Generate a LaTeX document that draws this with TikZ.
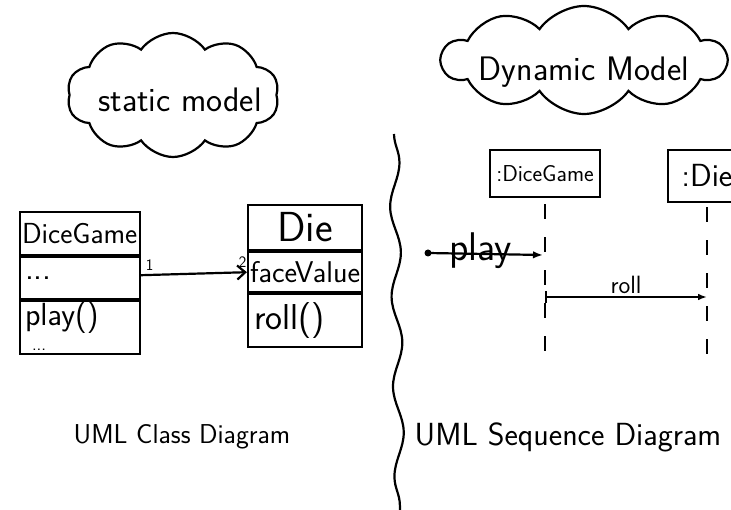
\documentclass[tikz,border=0pt]{standalone}
\usepackage{fontspec}
\usetikzlibrary{positioning,shapes.symbols,arrows.meta,decorations.pathmorphing}

\begin{document}
\begin{tikzpicture}[x=1pt, y=-1pt, line width=2.2pt, font=\sffamily,
    part/.style={draw, minimum width=#1, inner sep=4pt, text width=#1-10, align=left},
    bubble/.style={cloud, draw, cloud puffs=10, cloud puff arc=110, aspect=2.2, inner sep=0pt}]
  \clip (0,0) rectangle (731,510);
  % Clouds
  \node[bubble, minimum width=212, minimum height=124] (static) at (173,95) {};
  \node[font=\sffamily\fontsize{34}{38}\selectfont] (statictext) at (180,100) {static model};
  \node[bubble, minimum width=284, minimum height=108] (dynamic) at (584,60) {};
  \node[font=\sffamily\fontsize{34}{38}\selectfont] (dynamictext) at (584,72) {Dynamic Model};
  % Divider
  \draw[decorate, decoration={snake, amplitude=5, segment length=90}] (394,134) -- (400,512);
  % Class diagram
  \node[part=120, minimum height=43, inner sep=2pt, text width=116, font=\sffamily\fontsize{29}{30}\selectfont] (dgname) at (80,233.5) {DiceGame};
  \node[part=120, minimum height=42, below=0 of dgname, font=\sffamily\fontsize{34}{22}\selectfont] (dgattr) {...};
  \node[part=120, minimum height=53, below=0 of dgattr] (dgmeth) {};
  \node[anchor=base west, inner sep=0pt, font=\sffamily\fontsize{32}{34}\selectfont] (dgplay) at ([xshift=5, yshift=-25]dgmeth.north west) {play()};
  \node[anchor=base west, inner sep=0pt, font=\sffamily\fontsize{18}{18}\selectfont] (dgmore) at ([xshift=12, yshift=5]dgmeth.south west) {...};
  \node[part=114, minimum height=45, align=center, inner sep=2pt, font=\sffamily\fontsize{42}{44}\selectfont] (diename) at (305,227.5) {Die};
  \node[part=114, minimum height=40, below=0 of diename, inner sep=2pt, text width=110, font=\sffamily\fontsize{30}{30}\selectfont] (dieattr) {faceValue};
  \node[part=114, minimum height=53, below=0 of dieattr, inner sep=6pt, text width=102, font=\sffamily\fontsize{36}{36}\selectfont] (diemeth) {roll()};
  \draw[-{Straight Barb[length=8pt, width=14pt]}] ([yshift=3]dgattr.east) -- (dieattr.west)
    node[pos=0.08, above, font=\sffamily\fontsize{16}{18}\selectfont] {1}
    node[pos=0.96, above, font=\sffamily\fontsize{16}{18}\selectfont] {2};
  % Sequence diagram
  \node[draw, minimum width=110, minimum height=47, inner sep=2pt, font=\sffamily\fontsize{23}{26}\selectfont] (sgame) at (545,173.5) {:DiceGame};
  \node[draw, minimum width=78, minimum height=52, inner sep=2pt, font=\sffamily\fontsize{32}{34}\selectfont] (sdie) at (707,176) {:Die\hspace{10pt}};
  \coordinate (gameend) at (545,366);
  \coordinate (dieend) at (707,366);
  \draw[dash pattern=on 15pt off 18pt] (sgame.south) ++(0,6) -- (gameend);
  \draw[dash pattern=on 15pt off 18pt] (sdie.south) ++(0,4) -- (dieend);
  \coordinate (playstart) at (428,253);
  \coordinate (playend) at (543,255);
  \fill (playstart) circle (3.5pt);
  \draw[-{Latex[length=10pt]}] (playstart) -- (playend)
    node[pos=0.46, above=-19pt, font=\sffamily\fontsize{40}{44}\selectfont] {play};
  \coordinate (rollstart) at (545,297);
  \coordinate (rollend) at (707,297);
  \draw[{Bar[width=12pt]}-{Latex[length=9pt]}] (rollstart) -- (rollend)
    node[midway, above=-1pt, font=\sffamily\fontsize{25}{28}\selectfont] {roll};
  % Captions
  \node[font=\sffamily\fontsize{27.3}{30}\selectfont] (classcap) at (182,437) {UML Class Diagram};
  \node[font=\sffamily\fontsize{32}{34}\selectfont] (seqcap) at (568,437) {UML Sequence Diagram};
\end{tikzpicture}
\end{document}
